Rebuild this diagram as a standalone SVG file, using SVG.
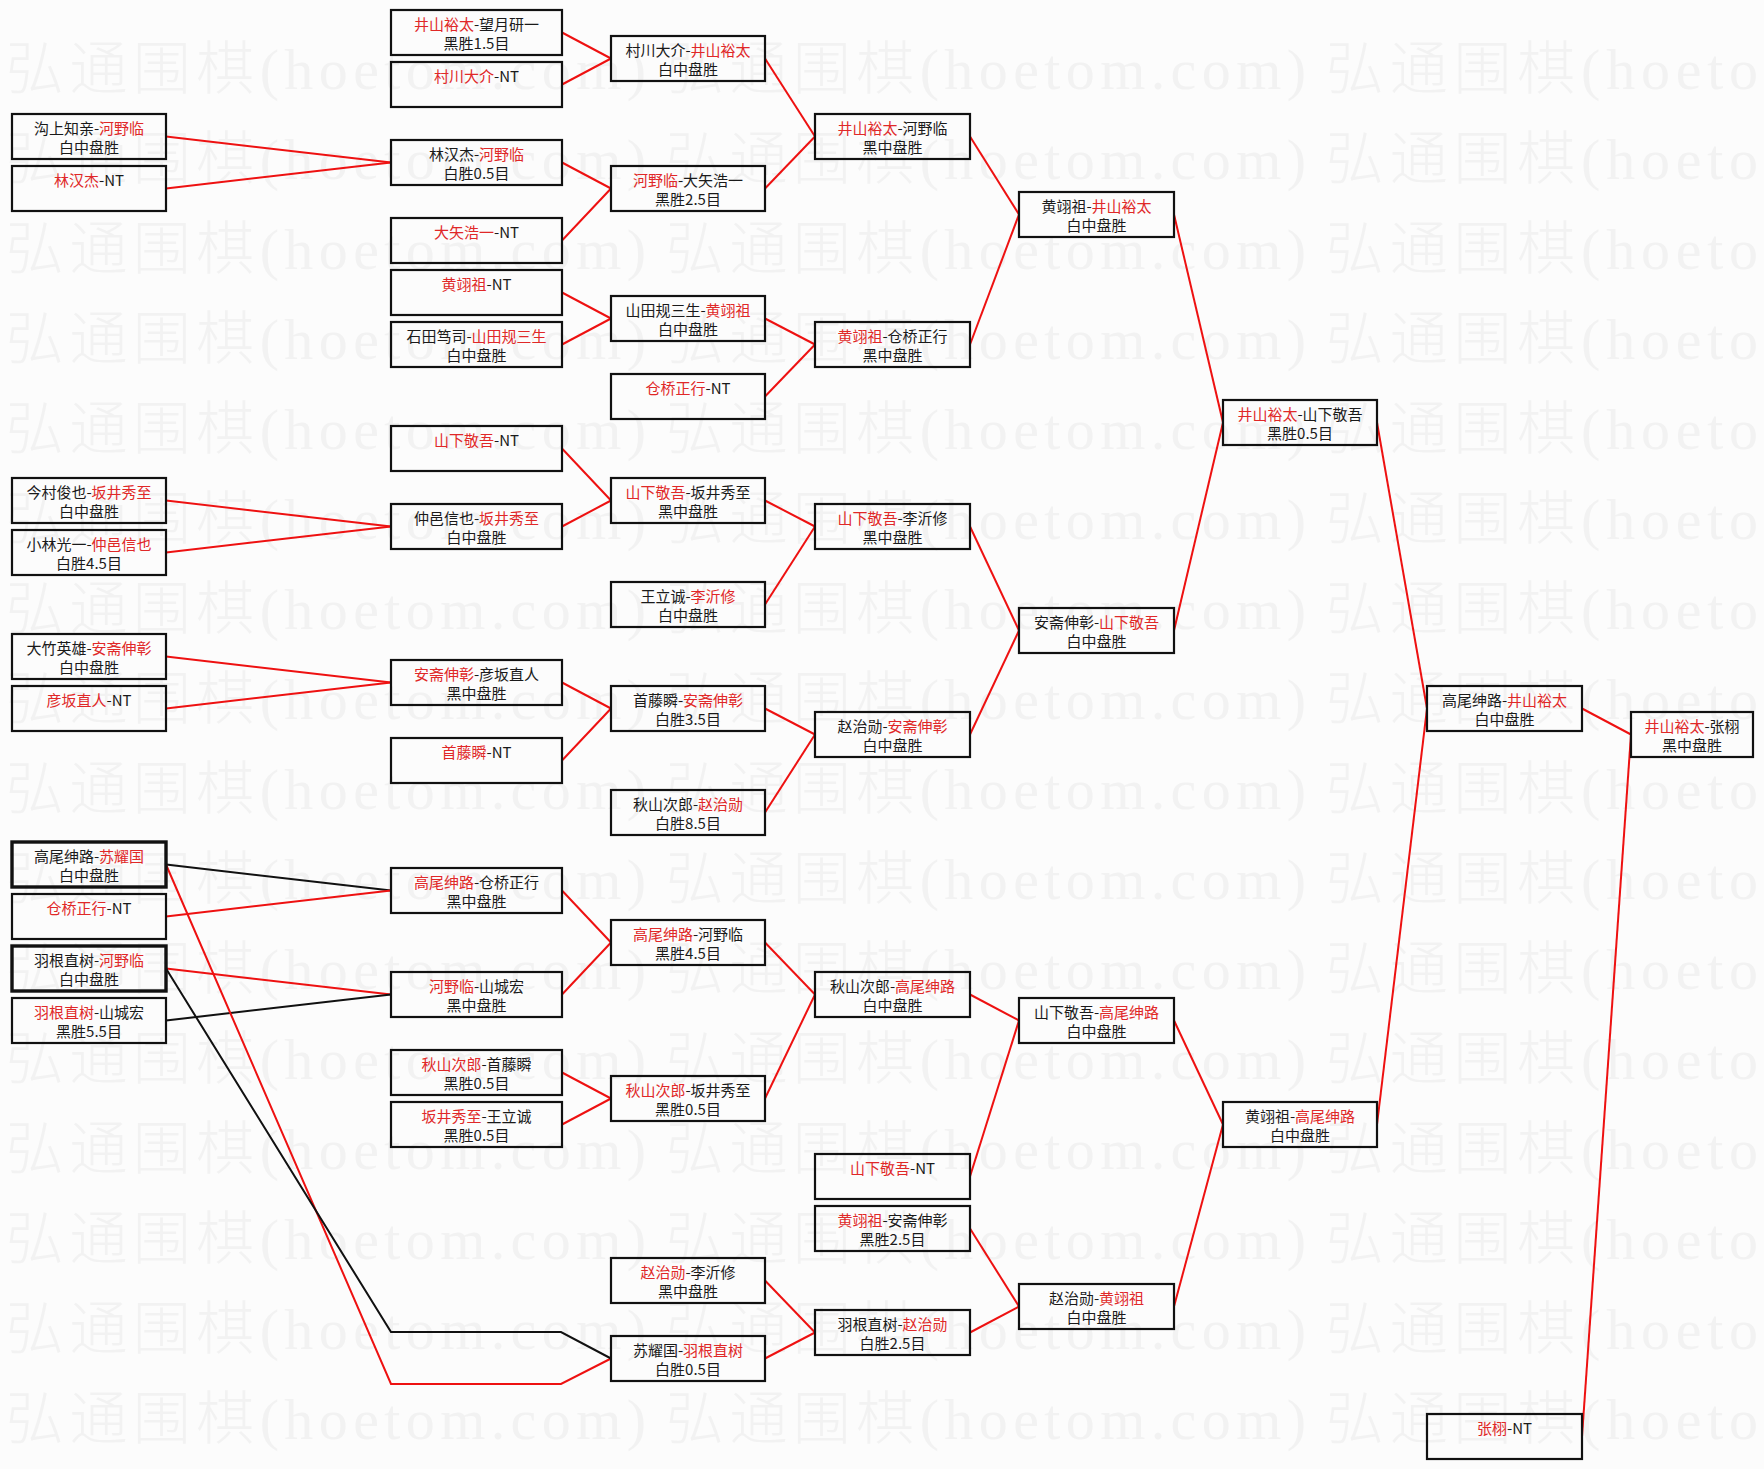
<svg xmlns="http://www.w3.org/2000/svg" width="1764" height="1469" viewBox="0 0 1764 1469">
<style>
.bg{fill:#fcfcfc}
.wm{font-family:"Liberation Serif","Noto Sans CJK SC",serif;font-size:58px;font-weight:300;fill:#f2f2f2}
.box{fill:none;stroke:#111;stroke-width:2.2}
.thick{stroke-width:3.4}
.t{font-family:"Noto Sans CJK SC","Noto Sans",sans-serif;font-size:15px;fill:#1a1a1a;text-anchor:middle}
.r{fill:#e02828}
.ln{fill:none;stroke:#ee1111;stroke-width:2}
.lk{stroke:#111}
</style>
<rect class="bg" x="0" y="0" width="1764" height="1469"/>
<g id="watermark">
<text class="wm" x="6" y="89" textLength="640" lengthAdjust="spacing">弘通围棋(hoetom.com)</text><text class="wm" x="666" y="89" textLength="640" lengthAdjust="spacing">弘通围棋(hoetom.com)</text><text class="wm" x="1326" y="89" textLength="432" lengthAdjust="spacing">弘通围棋(hoeto</text>
<text class="wm" x="6" y="179" textLength="640" lengthAdjust="spacing">弘通围棋(hoetom.com)</text><text class="wm" x="666" y="179" textLength="640" lengthAdjust="spacing">弘通围棋(hoetom.com)</text><text class="wm" x="1326" y="179" textLength="432" lengthAdjust="spacing">弘通围棋(hoeto</text>
<text class="wm" x="6" y="269" textLength="640" lengthAdjust="spacing">弘通围棋(hoetom.com)</text><text class="wm" x="666" y="269" textLength="640" lengthAdjust="spacing">弘通围棋(hoetom.com)</text><text class="wm" x="1326" y="269" textLength="432" lengthAdjust="spacing">弘通围棋(hoeto</text>
<text class="wm" x="6" y="359" textLength="640" lengthAdjust="spacing">弘通围棋(hoetom.com)</text><text class="wm" x="666" y="359" textLength="640" lengthAdjust="spacing">弘通围棋(hoetom.com)</text><text class="wm" x="1326" y="359" textLength="432" lengthAdjust="spacing">弘通围棋(hoeto</text>
<text class="wm" x="6" y="449" textLength="640" lengthAdjust="spacing">弘通围棋(hoetom.com)</text><text class="wm" x="666" y="449" textLength="640" lengthAdjust="spacing">弘通围棋(hoetom.com)</text><text class="wm" x="1326" y="449" textLength="432" lengthAdjust="spacing">弘通围棋(hoeto</text>
<text class="wm" x="6" y="539" textLength="640" lengthAdjust="spacing">弘通围棋(hoetom.com)</text><text class="wm" x="666" y="539" textLength="640" lengthAdjust="spacing">弘通围棋(hoetom.com)</text><text class="wm" x="1326" y="539" textLength="432" lengthAdjust="spacing">弘通围棋(hoeto</text>
<text class="wm" x="6" y="629" textLength="640" lengthAdjust="spacing">弘通围棋(hoetom.com)</text><text class="wm" x="666" y="629" textLength="640" lengthAdjust="spacing">弘通围棋(hoetom.com)</text><text class="wm" x="1326" y="629" textLength="432" lengthAdjust="spacing">弘通围棋(hoeto</text>
<text class="wm" x="6" y="719" textLength="640" lengthAdjust="spacing">弘通围棋(hoetom.com)</text><text class="wm" x="666" y="719" textLength="640" lengthAdjust="spacing">弘通围棋(hoetom.com)</text><text class="wm" x="1326" y="719" textLength="432" lengthAdjust="spacing">弘通围棋(hoeto</text>
<text class="wm" x="6" y="809" textLength="640" lengthAdjust="spacing">弘通围棋(hoetom.com)</text><text class="wm" x="666" y="809" textLength="640" lengthAdjust="spacing">弘通围棋(hoetom.com)</text><text class="wm" x="1326" y="809" textLength="432" lengthAdjust="spacing">弘通围棋(hoeto</text>
<text class="wm" x="6" y="899" textLength="640" lengthAdjust="spacing">弘通围棋(hoetom.com)</text><text class="wm" x="666" y="899" textLength="640" lengthAdjust="spacing">弘通围棋(hoetom.com)</text><text class="wm" x="1326" y="899" textLength="432" lengthAdjust="spacing">弘通围棋(hoeto</text>
<text class="wm" x="6" y="989" textLength="640" lengthAdjust="spacing">弘通围棋(hoetom.com)</text><text class="wm" x="666" y="989" textLength="640" lengthAdjust="spacing">弘通围棋(hoetom.com)</text><text class="wm" x="1326" y="989" textLength="432" lengthAdjust="spacing">弘通围棋(hoeto</text>
<text class="wm" x="6" y="1079" textLength="640" lengthAdjust="spacing">弘通围棋(hoetom.com)</text><text class="wm" x="666" y="1079" textLength="640" lengthAdjust="spacing">弘通围棋(hoetom.com)</text><text class="wm" x="1326" y="1079" textLength="432" lengthAdjust="spacing">弘通围棋(hoeto</text>
<text class="wm" x="6" y="1169" textLength="640" lengthAdjust="spacing">弘通围棋(hoetom.com)</text><text class="wm" x="666" y="1169" textLength="640" lengthAdjust="spacing">弘通围棋(hoetom.com)</text><text class="wm" x="1326" y="1169" textLength="432" lengthAdjust="spacing">弘通围棋(hoeto</text>
<text class="wm" x="6" y="1259" textLength="640" lengthAdjust="spacing">弘通围棋(hoetom.com)</text><text class="wm" x="666" y="1259" textLength="640" lengthAdjust="spacing">弘通围棋(hoetom.com)</text><text class="wm" x="1326" y="1259" textLength="432" lengthAdjust="spacing">弘通围棋(hoeto</text>
<text class="wm" x="6" y="1349" textLength="640" lengthAdjust="spacing">弘通围棋(hoetom.com)</text><text class="wm" x="666" y="1349" textLength="640" lengthAdjust="spacing">弘通围棋(hoetom.com)</text><text class="wm" x="1326" y="1349" textLength="432" lengthAdjust="spacing">弘通围棋(hoeto</text>
<text class="wm" x="6" y="1439" textLength="640" lengthAdjust="spacing">弘通围棋(hoetom.com)</text><text class="wm" x="666" y="1439" textLength="640" lengthAdjust="spacing">弘通围棋(hoetom.com)</text><text class="wm" x="1326" y="1439" textLength="432" lengthAdjust="spacing">弘通围棋(hoeto</text>
</g>
<g id="connectors">
<line class="ln" x1="562" y1="32.5" x2="611" y2="58.5"/>
<line class="ln" x1="562" y1="84.5" x2="611" y2="58.5"/>
<line class="ln" x1="166" y1="136.5" x2="391" y2="162.5"/>
<line class="ln" x1="166" y1="188.5" x2="391" y2="162.5"/>
<line class="ln" x1="562" y1="162.5" x2="611" y2="188.5"/>
<line class="ln" x1="562" y1="240.5" x2="611" y2="188.5"/>
<line class="ln" x1="562" y1="292.5" x2="611" y2="318.5"/>
<line class="ln" x1="562" y1="344.5" x2="611" y2="318.5"/>
<line class="ln" x1="765" y1="58.5" x2="815" y2="136.5"/>
<line class="ln" x1="765" y1="188.5" x2="815" y2="136.5"/>
<line class="ln" x1="765" y1="318.5" x2="815" y2="344.5"/>
<line class="ln" x1="765" y1="396.5" x2="815" y2="344.5"/>
<line class="ln" x1="970" y1="136.5" x2="1019" y2="214.5"/>
<line class="ln" x1="970" y1="344.5" x2="1019" y2="214.5"/>
<line class="ln" x1="1174" y1="214.5" x2="1223" y2="422.5"/>
<line class="ln" x1="1174" y1="630.5" x2="1223" y2="422.5"/>
<line class="ln" x1="562" y1="448.5" x2="611" y2="500.5"/>
<line class="ln" x1="562" y1="526.5" x2="611" y2="500.5"/>
<line class="ln" x1="166" y1="500.5" x2="391" y2="526.5"/>
<line class="ln" x1="166" y1="552.5" x2="391" y2="526.5"/>
<line class="ln" x1="765" y1="500.5" x2="815" y2="526.5"/>
<line class="ln" x1="765" y1="604.5" x2="815" y2="526.5"/>
<line class="ln" x1="970" y1="526.5" x2="1019" y2="630.5"/>
<line class="ln" x1="970" y1="734.5" x2="1019" y2="630.5"/>
<line class="ln" x1="166" y1="656.5" x2="391" y2="682.5"/>
<line class="ln" x1="166" y1="708.5" x2="391" y2="682.5"/>
<line class="ln" x1="562" y1="682.5" x2="611" y2="708.5"/>
<line class="ln" x1="562" y1="760.5" x2="611" y2="708.5"/>
<line class="ln" x1="765" y1="708.5" x2="815" y2="734.5"/>
<line class="ln" x1="765" y1="812.5" x2="815" y2="734.5"/>
<line class="ln lk" x1="166" y1="864.5" x2="391" y2="890.5"/>
<line class="ln" x1="166" y1="916.5" x2="391" y2="890.5"/>
<line class="ln" x1="166" y1="968.5" x2="391" y2="994.5"/>
<line class="ln lk" x1="166" y1="1020.5" x2="391" y2="994.5"/>
<line class="ln" x1="562" y1="890.5" x2="611" y2="942.5"/>
<line class="ln" x1="562" y1="994.5" x2="611" y2="942.5"/>
<line class="ln" x1="562" y1="1072.5" x2="611" y2="1098.5"/>
<line class="ln" x1="562" y1="1124.5" x2="611" y2="1098.5"/>
<line class="ln" x1="765" y1="942.5" x2="815" y2="994.5"/>
<line class="ln" x1="765" y1="1098.5" x2="815" y2="994.5"/>
<line class="ln" x1="970" y1="994.5" x2="1019" y2="1020.5"/>
<line class="ln" x1="970" y1="1176.5" x2="1019" y2="1020.5"/>
<line class="ln" x1="1174" y1="1020.5" x2="1223" y2="1124.5"/>
<line class="ln" x1="1174" y1="1306.5" x2="1223" y2="1124.5"/>
<line class="ln" x1="970" y1="1228.5" x2="1019" y2="1306.5"/>
<line class="ln" x1="970" y1="1332.5" x2="1019" y2="1306.5"/>
<line class="ln" x1="765" y1="1280.5" x2="815" y2="1332.5"/>
<line class="ln" x1="765" y1="1358.5" x2="815" y2="1332.5"/>
<line class="ln" x1="1377" y1="422.5" x2="1427" y2="708.5"/>
<line class="ln" x1="1377" y1="1124.5" x2="1427" y2="708.5"/>
<line class="ln" x1="1582" y1="708.5" x2="1631" y2="734.5"/>
<line class="ln" x1="1582" y1="1436.5" x2="1631" y2="734.5"/>
<polyline class="ln" points="166,864.5 391,1384 561,1384 611,1358.5"/>
<polyline class="ln lk" points="166,968.5 391,1332 561,1332 611,1358.5"/>
</g>
<g id="n0-4"><rect class="box" x="12" y="114" width="154" height="45"/><text class="t" x="89" y="134">沟上知亲-<tspan class="r">河野临</tspan></text><text class="t" x="89" y="153">白中盘胜</text></g>
<g id="n0-6"><rect class="box" x="12" y="166" width="154" height="45"/><text class="t" x="89" y="186"><tspan class="r">林汉杰</tspan>-NT</text></g>
<g id="n0-18"><rect class="box" x="12" y="478" width="154" height="45"/><text class="t" x="89" y="498">今村俊也-<tspan class="r">坂井秀至</tspan></text><text class="t" x="89" y="517">白中盘胜</text></g>
<g id="n0-20"><rect class="box" x="12" y="530" width="154" height="45"/><text class="t" x="89" y="550">小林光一-<tspan class="r">仲邑信也</tspan></text><text class="t" x="89" y="569">白胜4.5目</text></g>
<g id="n0-24"><rect class="box" x="12" y="634" width="154" height="45"/><text class="t" x="89" y="654">大竹英雄-<tspan class="r">安斋伸彰</tspan></text><text class="t" x="89" y="673">白中盘胜</text></g>
<g id="n0-26"><rect class="box" x="12" y="686" width="154" height="45"/><text class="t" x="89" y="706"><tspan class="r">彦坂直人</tspan>-NT</text></g>
<g id="n0-32"><rect class="box thick" x="12" y="842" width="154" height="45"/><text class="t" x="89" y="862">高尾绅路-<tspan class="r">苏耀国</tspan></text><text class="t" x="89" y="881">白中盘胜</text></g>
<g id="n0-34"><rect class="box" x="12" y="894" width="154" height="45"/><text class="t" x="89" y="914"><tspan class="r">仓桥正行</tspan>-NT</text></g>
<g id="n0-36"><rect class="box thick" x="12" y="946" width="154" height="45"/><text class="t" x="89" y="966">羽根直树-<tspan class="r">河野临</tspan></text><text class="t" x="89" y="985">白中盘胜</text></g>
<g id="n0-38"><rect class="box" x="12" y="998" width="154" height="45"/><text class="t" x="89" y="1018"><tspan class="r">羽根直树</tspan>-山城宏</text><text class="t" x="89" y="1037">黑胜5.5目</text></g>
<g id="n1-0"><rect class="box" x="391" y="10" width="171" height="45"/><text class="t" x="476.5" y="30"><tspan class="r">井山裕太</tspan>-望月研一</text><text class="t" x="476.5" y="49">黑胜1.5目</text></g>
<g id="n1-2"><rect class="box" x="391" y="62" width="171" height="45"/><text class="t" x="476.5" y="82"><tspan class="r">村川大介</tspan>-NT</text></g>
<g id="n1-5"><rect class="box" x="391" y="140" width="171" height="45"/><text class="t" x="476.5" y="160">林汉杰-<tspan class="r">河野临</tspan></text><text class="t" x="476.5" y="179">白胜0.5目</text></g>
<g id="n1-8"><rect class="box" x="391" y="218" width="171" height="45"/><text class="t" x="476.5" y="238"><tspan class="r">大矢浩一</tspan>-NT</text></g>
<g id="n1-10"><rect class="box" x="391" y="270" width="171" height="45"/><text class="t" x="476.5" y="290"><tspan class="r">黄翊祖</tspan>-NT</text></g>
<g id="n1-12"><rect class="box" x="391" y="322" width="171" height="45"/><text class="t" x="476.5" y="342">石田笃司-<tspan class="r">山田规三生</tspan></text><text class="t" x="476.5" y="361">白中盘胜</text></g>
<g id="n1-16"><rect class="box" x="391" y="426" width="171" height="45"/><text class="t" x="476.5" y="446"><tspan class="r">山下敬吾</tspan>-NT</text></g>
<g id="n1-19"><rect class="box" x="391" y="504" width="171" height="45"/><text class="t" x="476.5" y="524">仲邑信也-<tspan class="r">坂井秀至</tspan></text><text class="t" x="476.5" y="543">白中盘胜</text></g>
<g id="n1-25"><rect class="box" x="391" y="660" width="171" height="45"/><text class="t" x="476.5" y="680"><tspan class="r">安斋伸彰</tspan>-彦坂直人</text><text class="t" x="476.5" y="699">黑中盘胜</text></g>
<g id="n1-28"><rect class="box" x="391" y="738" width="171" height="45"/><text class="t" x="476.5" y="758"><tspan class="r">首藤瞬</tspan>-NT</text></g>
<g id="n1-33"><rect class="box" x="391" y="868" width="171" height="45"/><text class="t" x="476.5" y="888"><tspan class="r">高尾绅路</tspan>-仓桥正行</text><text class="t" x="476.5" y="907">黑中盘胜</text></g>
<g id="n1-37"><rect class="box" x="391" y="972" width="171" height="45"/><text class="t" x="476.5" y="992"><tspan class="r">河野临</tspan>-山城宏</text><text class="t" x="476.5" y="1011">黑中盘胜</text></g>
<g id="n1-40"><rect class="box" x="391" y="1050" width="171" height="45"/><text class="t" x="476.5" y="1070"><tspan class="r">秋山次郎</tspan>-首藤瞬</text><text class="t" x="476.5" y="1089">黑胜0.5目</text></g>
<g id="n1-42"><rect class="box" x="391" y="1102" width="171" height="45"/><text class="t" x="476.5" y="1122"><tspan class="r">坂井秀至</tspan>-王立诚</text><text class="t" x="476.5" y="1141">黑胜0.5目</text></g>
<g id="n2-1"><rect class="box" x="611" y="36" width="154" height="45"/><text class="t" x="688" y="56">村川大介-<tspan class="r">井山裕太</tspan></text><text class="t" x="688" y="75">白中盘胜</text></g>
<g id="n2-6"><rect class="box" x="611" y="166" width="154" height="45"/><text class="t" x="688" y="186"><tspan class="r">河野临</tspan>-大矢浩一</text><text class="t" x="688" y="205">黑胜2.5目</text></g>
<g id="n2-11"><rect class="box" x="611" y="296" width="154" height="45"/><text class="t" x="688" y="316">山田规三生-<tspan class="r">黄翊祖</tspan></text><text class="t" x="688" y="335">白中盘胜</text></g>
<g id="n2-14"><rect class="box" x="611" y="374" width="154" height="45"/><text class="t" x="688" y="394"><tspan class="r">仓桥正行</tspan>-NT</text></g>
<g id="n2-18"><rect class="box" x="611" y="478" width="154" height="45"/><text class="t" x="688" y="498"><tspan class="r">山下敬吾</tspan>-坂井秀至</text><text class="t" x="688" y="517">黑中盘胜</text></g>
<g id="n2-22"><rect class="box" x="611" y="582" width="154" height="45"/><text class="t" x="688" y="602">王立诚-<tspan class="r">李沂修</tspan></text><text class="t" x="688" y="621">白中盘胜</text></g>
<g id="n2-26"><rect class="box" x="611" y="686" width="154" height="45"/><text class="t" x="688" y="706">首藤瞬-<tspan class="r">安斋伸彰</tspan></text><text class="t" x="688" y="725">白胜3.5目</text></g>
<g id="n2-30"><rect class="box" x="611" y="790" width="154" height="45"/><text class="t" x="688" y="810">秋山次郎-<tspan class="r">赵治勋</tspan></text><text class="t" x="688" y="829">白胜8.5目</text></g>
<g id="n2-35"><rect class="box" x="611" y="920" width="154" height="45"/><text class="t" x="688" y="940"><tspan class="r">高尾绅路</tspan>-河野临</text><text class="t" x="688" y="959">黑胜4.5目</text></g>
<g id="n2-41"><rect class="box" x="611" y="1076" width="154" height="45"/><text class="t" x="688" y="1096"><tspan class="r">秋山次郎</tspan>-坂井秀至</text><text class="t" x="688" y="1115">黑胜0.5目</text></g>
<g id="n2-48"><rect class="box" x="611" y="1258" width="154" height="45"/><text class="t" x="688" y="1278"><tspan class="r">赵治勋</tspan>-李沂修</text><text class="t" x="688" y="1297">黑中盘胜</text></g>
<g id="n2-51"><rect class="box" x="611" y="1336" width="154" height="45"/><text class="t" x="688" y="1356">苏耀国-<tspan class="r">羽根直树</tspan></text><text class="t" x="688" y="1375">白胜0.5目</text></g>
<g id="n3-4"><rect class="box" x="815" y="114" width="155" height="45"/><text class="t" x="892.5" y="134"><tspan class="r">井山裕太</tspan>-河野临</text><text class="t" x="892.5" y="153">黑中盘胜</text></g>
<g id="n3-12"><rect class="box" x="815" y="322" width="155" height="45"/><text class="t" x="892.5" y="342"><tspan class="r">黄翊祖</tspan>-仓桥正行</text><text class="t" x="892.5" y="361">黑中盘胜</text></g>
<g id="n3-19"><rect class="box" x="815" y="504" width="155" height="45"/><text class="t" x="892.5" y="524"><tspan class="r">山下敬吾</tspan>-李沂修</text><text class="t" x="892.5" y="543">黑中盘胜</text></g>
<g id="n3-27"><rect class="box" x="815" y="712" width="155" height="45"/><text class="t" x="892.5" y="732">赵治勋-<tspan class="r">安斋伸彰</tspan></text><text class="t" x="892.5" y="751">白中盘胜</text></g>
<g id="n3-37"><rect class="box" x="815" y="972" width="155" height="45"/><text class="t" x="892.5" y="992">秋山次郎-<tspan class="r">高尾绅路</tspan></text><text class="t" x="892.5" y="1011">白中盘胜</text></g>
<g id="n3-44"><rect class="box" x="815" y="1154" width="155" height="45"/><text class="t" x="892.5" y="1174"><tspan class="r">山下敬吾</tspan>-NT</text></g>
<g id="n3-46"><rect class="box" x="815" y="1206" width="155" height="45"/><text class="t" x="892.5" y="1226"><tspan class="r">黄翊祖</tspan>-安斋伸彰</text><text class="t" x="892.5" y="1245">黑胜2.5目</text></g>
<g id="n3-50"><rect class="box" x="815" y="1310" width="155" height="45"/><text class="t" x="892.5" y="1330">羽根直树-<tspan class="r">赵治勋</tspan></text><text class="t" x="892.5" y="1349">白胜2.5目</text></g>
<g id="n4-7"><rect class="box" x="1019" y="192" width="155" height="45"/><text class="t" x="1096.5" y="212">黄翊祖-<tspan class="r">井山裕太</tspan></text><text class="t" x="1096.5" y="231">白中盘胜</text></g>
<g id="n4-23"><rect class="box" x="1019" y="608" width="155" height="45"/><text class="t" x="1096.5" y="628">安斋伸彰-<tspan class="r">山下敬吾</tspan></text><text class="t" x="1096.5" y="647">白中盘胜</text></g>
<g id="n4-38"><rect class="box" x="1019" y="998" width="155" height="45"/><text class="t" x="1096.5" y="1018">山下敬吾-<tspan class="r">高尾绅路</tspan></text><text class="t" x="1096.5" y="1037">白中盘胜</text></g>
<g id="n4-49"><rect class="box" x="1019" y="1284" width="155" height="45"/><text class="t" x="1096.5" y="1304">赵治勋-<tspan class="r">黄翊祖</tspan></text><text class="t" x="1096.5" y="1323">白中盘胜</text></g>
<g id="n5-15"><rect class="box" x="1223" y="400" width="154" height="45"/><text class="t" x="1300" y="420"><tspan class="r">井山裕太</tspan>-山下敬吾</text><text class="t" x="1300" y="439">黑胜0.5目</text></g>
<g id="n5-42"><rect class="box" x="1223" y="1102" width="154" height="45"/><text class="t" x="1300" y="1122">黄翊祖-<tspan class="r">高尾绅路</tspan></text><text class="t" x="1300" y="1141">白中盘胜</text></g>
<g id="n6-26"><rect class="box" x="1427" y="686" width="155" height="45"/><text class="t" x="1504.5" y="706">高尾绅路-<tspan class="r">井山裕太</tspan></text><text class="t" x="1504.5" y="725">白中盘胜</text></g>
<g id="n6-54"><rect class="box" x="1427" y="1414" width="155" height="45"/><text class="t" x="1504.5" y="1434"><tspan class="r">张栩</tspan>-NT</text></g>
<g id="n7-27"><rect class="box" x="1631" y="712" width="122" height="45"/><text class="t" x="1692" y="732"><tspan class="r">井山裕太</tspan>-张栩</text><text class="t" x="1692" y="751">黑中盘胜</text></g>
</svg>
